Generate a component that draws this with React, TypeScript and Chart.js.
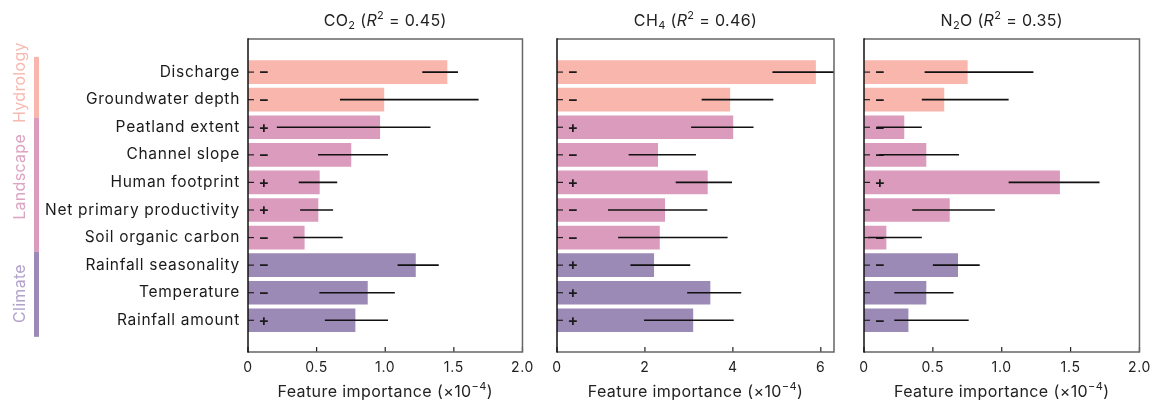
import { useEffect, useRef } from 'react';
import { Chart, registerables } from 'chart.js';
Chart.register(...registerables);

const FONT = 'Inter, "Noto Sans", sans-serif';

const categories = [
  'Discharge',
  'Groundwater depth',
  'Peatland extent',
  'Channel slope',
  'Human footprint',
  'Net primary productivity',
  'Soil organic carbon',
  'Rainfall seasonality',
  'Temperature',
  'Rainfall amount',
];
const categoryGroups = [0, 0, 1, 1, 1, 1, 1, 2, 2, 2];
const groupNames = ['Hydrology', 'Landscape', 'Climate'];
const groupColors = ['#F9B6AD', '#DA9BBD', '#9B89B6'];
const groupTextColors = ['#F7BAB0', '#DDA3C3', '#B2A2CB'];
// group extents in category-index units along the y axis
const groupBounds = [-0.55, 1.66, 6.52, 9.6];
const groupLabelAt = [0.38, 3.8, 8.03];

const co2Importance = [1.45, 0.99, 0.96, 0.75, 0.52, 0.51, 0.41, 1.22, 0.87, 0.78];
const co2Low = [1.27, 0.67, 0.21, 0.51, 0.37, 0.38, 0.33, 1.09, 0.52, 0.56];
const co2High = [1.53, 1.68, 1.33, 1.02, 0.65, 0.62, 0.69, 1.39, 1.07, 1.02];
const co2Signs = ['−', '−', '+', '−', '+', '+', '−', '−', '−', '+'];

const ch4Importance = [5.88, 3.93, 4.0, 2.29, 3.42, 2.45, 2.33, 2.2, 3.48, 3.09];
const ch4Low = [4.9, 3.29, 3.05, 1.63, 2.7, 1.16, 1.39, 1.67, 2.96, 1.98];
const ch4High = [6.4, 4.92, 4.47, 3.16, 3.98, 3.42, 3.88, 3.03, 4.19, 4.02];
const ch4Signs = ['−', '−', '+', '−', '+', '−', '−', '+', '+', '+'];

const n2oImportance = [0.75, 0.58, 0.29, 0.45, 1.42, 0.62, 0.16, 0.68, 0.45, 0.32];
const n2oLow = [0.44, 0.42, 0.09, 0.11, 1.05, 0.35, 0.03, 0.5, 0.22, 0.22];
const n2oHigh = [1.23, 1.05, 0.42, 0.69, 1.71, 0.95, 0.42, 0.84, 0.65, 0.76];
const n2oSigns = ['−', '−', '−', '−', '+', '', '−', '−', '', '−'];

const smallTicks = [0, 0.5, 1, 1.5, 2];
const smallTickLabels = ['0', '0.5', '1.0', '1.5', '2.0'];
const ch4Ticks = [0, 2, 4, 6];
const ch4TickLabels = ['0', '2', '4', '6'];

type Part = { t: string; sub?: boolean; sup?: boolean; italic?: boolean };

const xTitle: Part[] = [{ t: 'Feature importance (×10' }, { t: '−4', sup: true }, { t: ')' }];

const panels = [
  {
    title: [{ t: 'CO' }, { t: '2', sub: true }, { t: ' (' }, { t: 'R', italic: true }, { t: '2', sup: true }, { t: ' = 0.45)' }] as Part[],
    values: co2Importance, low: co2Low, high: co2High, signs: co2Signs,
    max: 2, ticks: smallTicks, tickLabels: smallTickLabels,
    left: 0, width: 540, axisW: 248, padR: 14, showLabels: true,
  },
  {
    title: [{ t: 'CH' }, { t: '4', sub: true }, { t: ' (' }, { t: 'R', italic: true }, { t: '2', sup: true }, { t: ' = 0.46)' }] as Part[],
    values: ch4Importance, low: ch4Low, high: ch4High, signs: ch4Signs,
    max: 6.3, ticks: ch4Ticks, tickLabels: ch4TickLabels,
    left: 540, width: 305, axisW: 17, padR: 11, showLabels: false,
  },
  {
    title: [{ t: 'N' }, { t: '2', sub: true }, { t: 'O (' }, { t: 'R', italic: true }, { t: '2', sup: true }, { t: ' = 0.35)' }] as Part[],
    values: n2oImportance, low: n2oLow, high: n2oHigh, signs: n2oSigns,
    max: 2, ticks: smallTicks, tickLabels: smallTickLabels,
    left: 845, width: 312, axisW: 19, padR: 15, showLabels: false,
  },
];

function drawRich(ctx: any, parts: Part[], cx: number, cy: number, size: number, color: string, spacing: number) {
  const fontFor = (p: Part) => `${p.italic ? 'italic ' : ''}${p.sub || p.sup ? Math.round(size * 0.7) : size}px ${FONT}`;
  ctx.save();
  ctx.letterSpacing = spacing + 'px';
  let total = 0;
  for (const p of parts) {
    ctx.font = fontFor(p);
    total += ctx.measureText(p.t).width;
  }
  let x = cx - total / 2;
  ctx.fillStyle = color;
  ctx.textAlign = 'left';
  ctx.textBaseline = 'middle';
  for (const p of parts) {
    ctx.font = fontFor(p);
    const dy = p.sub ? size * 0.3 : p.sup ? -size * 0.33 : 0;
    ctx.fillText(p.t, x, cy + dy);
    x += ctx.measureText(p.t).width;
  }
  ctx.restore();
}

function PanelChart({ idx }: { idx: number }) {
  const ref = useRef<HTMLCanvasElement>(null);
  useEffect(() => {
    const p = panels[idx];
    const canvas = ref.current!;
    const decor = {
      id: 'decor' + idx,
      beforeDraw(chart: any) {
        chart.ctx.letterSpacing = '0.7px';
      },
      afterDatasetsDraw(chart: any) {
        const ctx: any = chart.ctx;
        const area = chart.chartArea;
        const xs = chart.scales.x;
        const ys = chart.scales.y;
        ctx.save();
        ctx.letterSpacing = '0px';
        ctx.beginPath();
        ctx.rect(area.left, area.top, area.right - area.left, area.bottom - area.top);
        ctx.clip();
        // signs
        ctx.fillStyle = '#1a1a1a';
        ctx.font = `600 16px ${FONT}`;
        ctx.textAlign = 'center';
        ctx.textBaseline = 'middle';
        p.signs.forEach((s, i) => {
          if (s) ctx.fillText(s, area.left + 16, ys.getPixelForValue(i) + 0.5);
        });
        // error bars
        ctx.strokeStyle = '#111';
        ctx.lineWidth = 1.6;
        p.low.forEach((lo, i) => {
          const y = ys.getPixelForValue(i);
          ctx.beginPath();
          ctx.moveTo(xs.getPixelForValue(lo), y);
          ctx.lineTo(xs.getPixelForValue(p.high[i]), y);
          ctx.stroke();
        });
        ctx.restore();
        // inward ticks
        ctx.save();
        ctx.strokeStyle = '#222';
        ctx.lineWidth = 1.2;
        categories.forEach((_, i) => {
          const y = ys.getPixelForValue(i);
          ctx.beginPath();
          ctx.moveTo(area.left, y);
          ctx.lineTo(area.left + 6, y);
          ctx.stroke();
        });
        p.ticks.forEach((v) => {
          const x = xs.getPixelForValue(v);
          ctx.beginPath();
          ctx.moveTo(x, area.bottom);
          ctx.lineTo(x, area.bottom - 5);
          ctx.stroke();
        });
        // frame
        ctx.strokeStyle = '#666';
        ctx.lineWidth = 1.5;
        ctx.beginPath();
        ctx.moveTo(area.left, area.top);
        ctx.lineTo(area.right, area.top);
        ctx.lineTo(area.right, area.bottom);
        ctx.lineTo(area.left, area.bottom);
        ctx.stroke();
        ctx.strokeStyle = '#111';
        ctx.beginPath();
        ctx.moveTo(area.left, area.top - 0.75);
        ctx.lineTo(area.left, area.bottom + 0.75);
        ctx.stroke();
        ctx.restore();
      },
      afterDraw(chart: any) {
        const ctx: any = chart.ctx;
        const area = chart.chartArea;
        const cx = (area.left + area.right) / 2;
        drawRich(ctx, p.title, cx, 21, 16, '#222', 0.35);
        drawRich(ctx, xTitle, cx, 392, 16, '#222', 0.4);
        if (p.showLabels) {
          const ys = chart.scales.y;
          ctx.save();
          ctx.letterSpacing = '0.3px';
          groupNames.forEach((g, gi) => {
            const y0 = ys.getPixelForValue(groupBounds[gi]);
            const y1 = ys.getPixelForValue(groupBounds[gi + 1]);
            ctx.fillStyle = groupColors[gi];
            ctx.fillRect(34, y0, 5, y1 - y0);
            ctx.save();
            ctx.translate(20, ys.getPixelForValue(groupLabelAt[gi]));
            ctx.rotate(-Math.PI / 2);
            ctx.fillStyle = groupTextColors[gi];
            ctx.font = `16px ${FONT}`;
            ctx.textAlign = 'center';
            ctx.textBaseline = 'middle';
            ctx.fillText(g, 0, 0);
            ctx.restore();
          });
          ctx.restore();
        }
      },
    };
    const chart = new Chart(canvas, {
      type: 'bar',
      data: {
        datasets: [
          {
            data: p.values.map((v, i) => ({ x: v, y: i })),
            backgroundColor: categoryGroups.map((g) => groupColors[g]),
            borderWidth: 0,
            barThickness: 23,
          } as any,
        ],
      },
      options: {
        indexAxis: 'y',
        animation: false,
        responsive: false,
        devicePixelRatio: 1,
        layout: { padding: { top: 39, right: p.padR, bottom: 0, left: 0 } },
        plugins: { legend: { display: false }, tooltip: { enabled: false }, title: { display: false } },
        scales: {
          x: {
            type: 'linear',
            min: 0,
            max: p.max,
            afterBuildTicks: (s: any) => {
              s.ticks = p.ticks.map((v) => ({ value: v }));
            },
            afterFit: (s: any) => {
              s.height = 54;
            },
            ticks: {
              font: { family: FONT, size: 14 },
              color: '#222',
              padding: 7,
              maxRotation: 0,
              callback: (_v: any, i: number) => p.tickLabels[i],
            },
            grid: { display: false, drawTicks: false },
            border: { display: false },
          },
          y: {
            type: 'linear',
            offset: false,
            min: -1.2,
            max: 10.15,
            reverse: true,
            afterBuildTicks: (s: any) => {
              s.ticks = categories.map((_, i) => ({ value: i }));
            },
            afterFit: (s: any) => {
              s.width = p.axisW;
            },
            ticks: {
              display: p.showLabels,
              autoSkip: false,
              font: { family: FONT, size: 15.5 },
              color: '#1a1a1a',
              padding: 8,
              callback: (_v: any, i: number) => categories[i],
            },
            grid: { display: false, drawTicks: false },
            border: { display: false },
          },
        },
      } as any,
      plugins: [decor],
    });
    return () => chart.destroy();
  }, [idx]);
  const p = panels[idx];
  return (
    <canvas
      ref={ref}
      width={p.width}
      height={406}
      style={{ position: 'absolute', left: p.left, top: 0, width: p.width, height: 406 }}
    />
  );
}

export default function App() {
  return (
    <div style={{ position: 'absolute', left: 0, top: 0, width: 1157, height: 406, background: '#fff' }}>
      {panels.map((_, i) => (
        <PanelChart key={i} idx={i} />
      ))}
    </div>
  );
}
